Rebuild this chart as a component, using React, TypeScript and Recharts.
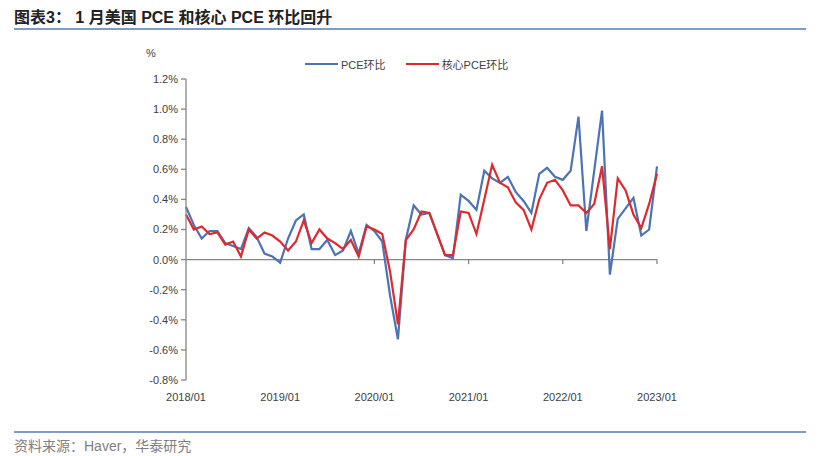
import React from "react";
import { LineChart, Line, XAxis, YAxis, ReferenceLine } from "recharts";

// 2018/01 - 2023/01 monthly
const years = ["2018", "2019", "2020", "2021", "2022"];
const monthsPerYear = ["01", "02", "03", "04", "05", "06", "07", "08", "09", "10", "11", "12"];
const months = [...years.flatMap((y) => monthsPerYear.map((m) => `${y}/${m}`)), "2023/01"];

const yearTicks = ["2018/01", "2019/01", "2020/01", "2021/01", "2022/01", "2023/01"];
const yTicks = [-0.8, -0.6, -0.4, -0.2, 0, 0.2, 0.4, 0.6, 0.8, 1.0, 1.2];

// PCE环比 (%)
const pceMoM = [
    0.35, 0.23, 0.14, 0.19, 0.19, 0.11, 0.09, 0.07, 0.21, 0.15, 0.04, 0.02,
    -0.02, 0.14, 0.26, 0.30, 0.07, 0.07, 0.13, 0.03, 0.06, 0.19, 0.04, 0.23,
    0.19, 0.12, -0.24, -0.53, 0.13, 0.36, 0.30, 0.31, 0.17, 0.03, 0.01, 0.43,
    0.39, 0.33, 0.59, 0.54, 0.51, 0.55, 0.45, 0.39, 0.31, 0.57, 0.61, 0.55,
    0.53, 0.59, 0.95, 0.19, 0.59, 0.99, -0.10, 0.27, 0.34, 0.41, 0.16, 0.20,
    0.62,
];

// 核心PCE环比 (%)
const corePceMoM = [
    0.30, 0.20, 0.22, 0.17, 0.18, 0.10, 0.12, 0.02, 0.20, 0.14, 0.18, 0.16,
    0.12, 0.06, 0.12, 0.26, 0.11, 0.20, 0.14, 0.11, 0.07, 0.13, 0.02, 0.22,
    0.20, 0.17, -0.08, -0.43, 0.13, 0.20, 0.32, 0.31, 0.17, 0.03, 0.03, 0.32,
    0.31, 0.17, 0.40, 0.63, 0.51, 0.48, 0.38, 0.33, 0.20, 0.40, 0.51, 0.53,
    0.46, 0.36, 0.36, 0.31, 0.37, 0.62, 0.07, 0.54, 0.46, 0.30, 0.21, 0.37,
    0.57,
];

const BLUE = "#4d73b4";
const RED = "#dc2a2f";
const AXIS = "#868686";
const FONT = "'Liberation Sans', Arial, 'Noto Sans CJK SC', sans-serif";

const data = months.map((m, i) => ({ month: m, pce: pceMoM[i], core: corePceMoM[i] }));

export default function App() {
    return (
        <div style={{ position: "relative", width: 819, height: 456, background: "#fff", fontFamily: FONT }}>
            <style>{`body{margin:0}`}</style>

            {/* title */}
            <div style={{ position: "absolute", left: 14, top: 4, fontSize: 16, fontWeight: "bold", color: "#222", fontFamily: "Arial, 'Liberation Sans', 'Noto Sans CJK SC', sans-serif", whiteSpace: "nowrap" }}>
                图表3： 1 月美国 PCE 和核心 PCE 环比回升
            </div>
            <div style={{ position: "absolute", left: 14, top: 28, width: 792, height: 2, background: "#7f9cc6" }} />

            {/* unit */}
            <div style={{ position: "absolute", left: 146, top: 47, fontSize: 11, color: "#404040" }}>%</div>

            {/* legend */}
            <div style={{ position: "absolute", left: 305, top: 56, display: "flex", alignItems: "center", fontSize: 11, color: "#404040", whiteSpace: "nowrap" }}>
                <span style={{ display: "inline-block", width: 33, height: 2, background: BLUE, marginRight: 3 }} />
                <span>PCE环比</span>
                <span style={{ display: "inline-block", width: 33, height: 2, background: RED, marginLeft: 20, marginRight: 3 }} />
                <span>核心PCE环比</span>
            </div>

            <div style={{ position: "absolute", left: 0, top: 0 }}>
                <LineChart width={819} height={456} data={data} margin={{ top: 79, right: 162, bottom: 46, left: 136 }}>
                    <XAxis
                        dataKey="month"
                        ticks={yearTicks}
                        interval={0}
                        axisLine={false}
                        tickLine={false}
                        tickMargin={7}
                        height={30}
                        tick={{ fontSize: 11, fill: "#404040", fontFamily: FONT }}
                    />
                    <YAxis
                        domain={[-0.8, 1.2]}
                        ticks={yTicks}
                        interval={0}
                        width={50}
                        tickSize={5}
                        tickMargin={3}
                        axisLine={{ stroke: AXIS, strokeWidth: 1.3 }}
                        tickLine={{ stroke: AXIS, strokeWidth: 1.3 }}
                        tickFormatter={(v: number) => `${v.toFixed(1)}%`}
                        tick={{ fontSize: 11, fill: "#404040", fontFamily: FONT }}
                    />
                    <ReferenceLine y={0} stroke={AXIS} strokeWidth={1.3} />
                    {yearTicks.slice(1).map((t) => (
                        <ReferenceLine
                            key={t}
                            segment={[{ x: t, y: 0 }, { x: t, y: -0.03 }]}
                            stroke={AXIS}
                            strokeWidth={1.3}
                        />
                    ))}
                    <Line type="linear" dataKey="pce" stroke={BLUE} strokeWidth={2.2} dot={false} isAnimationActive={false} />
                    <Line type="linear" dataKey="core" stroke={RED} strokeWidth={2.2} dot={false} isAnimationActive={false} />
                </LineChart>
            </div>

            {/* footer */}
            <div style={{ position: "absolute", left: 14, top: 431, width: 792, height: 2, background: "#7f9cc6" }} />
            <div style={{ position: "absolute", left: 14, top: 435, fontSize: 14, color: "#808080", whiteSpace: "nowrap" }}>
                资料来源：Haver，华泰研究
            </div>
        </div>
    );
}
